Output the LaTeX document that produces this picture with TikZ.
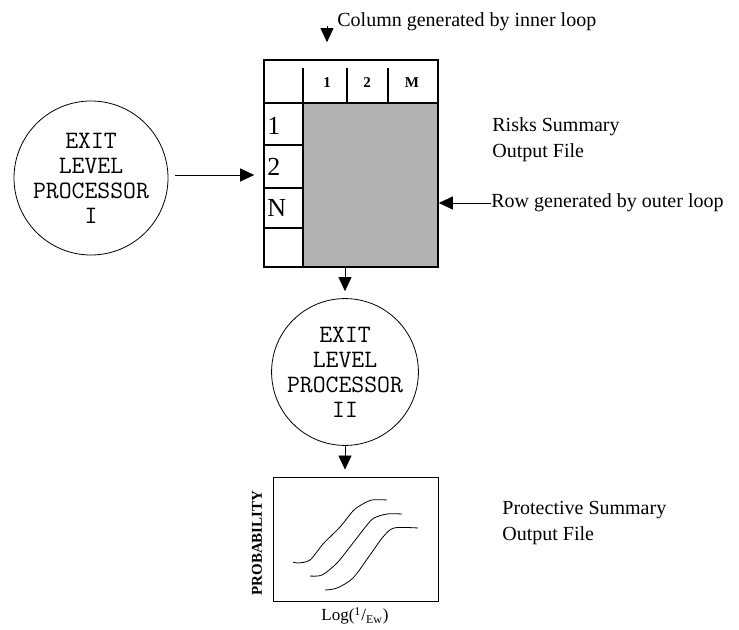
\documentclass[tikz,border=0pt]{standalone}
\usepackage{amsmath}
\usepackage{fontspec}
\setmainfont{Liberation Serif}
\usetikzlibrary{arrows.meta}
\definecolor{cellgray}{RGB}{178,178,178}
\tikzset{
  proc/.style={draw,circle,thin,inner sep=0pt,align=center,
    font=\ttfamily\fontsize{12.5}{12.5}\selectfont},
  arr/.style={-{Triangle[length=7pt,width=6.5pt]},thin},
  side/.style={anchor=west,align=left,inner sep=0pt,
    font=\fontsize{10}{13}\selectfont}
}
\begin{document}
\begin{tikzpicture}[x=0.5pt,y=-0.5pt]
\useasboundingbox (0,0) rectangle (739,630);
% Processor circles
\node[proc,minimum size=77pt] (procI) at (91,178) {EXIT\\LEVEL\\PROCESSOR\\I};
\node[proc,minimum size=71.5pt] (procII) at (345,372) {EXIT\\LEVEL\\PROCESSOR\\II};
% Risks summary table
\fill[cellgray] (303,103) rectangle (438,267);
\node[draw,line width=0.8pt,minimum width=87pt,minimum height=103.5pt,inner sep=0pt] (table) at (351,163.5) {};
\draw[line width=0.8pt] (303,68) -- (303,267);
\draw[line width=0.8pt] (264,103) -- (438,103);
\draw[line width=0.8pt] (347,68) -- (347,103);
\draw[line width=0.8pt] (388,68) -- (388,103);
\foreach \y in {145,188,228}
  \draw[line width=0.8pt] (264,\y) -- (303,\y);
% Labels on top row
\node[font=\bfseries\fontsize{7.5}{9}\selectfont] at (327,83) {1};
\node[font=\bfseries\fontsize{7.5}{9}\selectfont] at (367,83) {2};
\node[font=\bfseries\fontsize{7.5}{9}\selectfont] at (412,83) {M};
% Labels on left column
\node[anchor=west,inner sep=0pt,font=\fontsize{13}{14}\selectfont] at (267,126) {1};
\node[anchor=west,inner sep=0pt,font=\fontsize{13}{14}\selectfont] at (267,167) {2};
\node[anchor=west,inner sep=0pt,font=\fontsize{13}{14}\selectfont] at (267,208) {N};
% Text to the right
\node[side] (coltxt) at (337,22) {Column generated by inner loop};
\node[side] (risks) at (492,140) {Risks Summary\\Output File};
\node[side] (rowtxt) at (491,203) {Row generated by outer loop};
\node[side] (protect) at (502,523) {Protective Summary\\Output File};
% Probability chart
\node[draw,thin,minimum width=82.5pt,minimum height=62pt,inner sep=0pt] (chart) at (355.5,539) {};
\node[rotate=90,font=\bfseries\fontsize{7.5}{9}\selectfont] (ylab) at (257,543) {PROBABILITY};
\node[font=\fontsize{8.5}{9}\selectfont] (xlab) at (355,616) {Log(\textsuperscript{1}/\textsubscript{Ew})};
\draw[thin] plot[smooth] coordinates {(293,562) (298,563) (310,560) (323,544) (340,527) (353,511) (361,505) (372,500) (387,500)};
\draw[thin] plot[smooth] coordinates {(310,576) (322,575) (337,563) (353,543) (367,525) (374,518) (387,514) (402,514)};
\draw[thin] plot[smooth] coordinates {(325,590) (337,588) (353,578) (370,555) (383,537) (394,528) (418,528)};
% Arrows
\coordinate (colstart) at (327,26);
\draw[arr] (colstart) -- ([yshift=8.5pt]table.north -| colstart);
\draw[arr,shorten <=3.5pt,shorten >=4.5pt] (procI.east |- 0,175) -- (table.west |- 0,175);
\draw[arr] (rowtxt.west) -- (table.east |- rowtxt.west);
\draw[arr,shorten >=3.5pt] (table.south -| procII) -- (procII.north);
\draw[arr,shorten >=3.5pt] (procII.south) -- (chart.north -| procII);
\end{tikzpicture}
\end{document}
